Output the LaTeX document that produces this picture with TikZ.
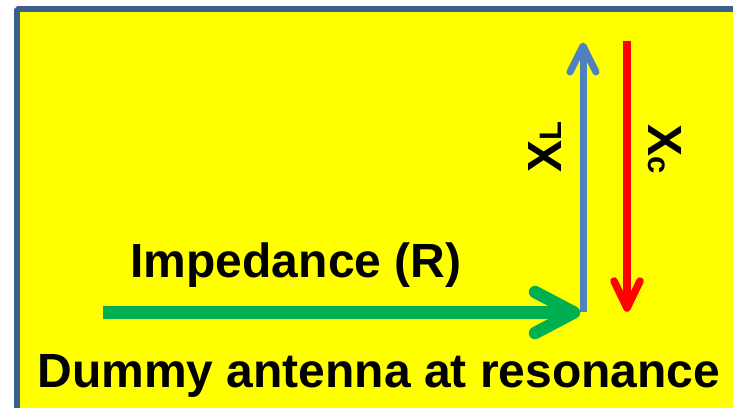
\documentclass[tikz,border=0pt]{standalone}
\usepackage{fontspec}
\setmainfont{Liberation Sans}
\definecolor{bgyellow}{HTML}{FFFF00}
\definecolor{framecol}{HTML}{3A5F8B}
\definecolor{xlblue}{HTML}{4F81BD}
\definecolor{xcred}{HTML}{FF0000}
\definecolor{rgreen}{HTML}{00B050}
\tikzset{
  bigtext/.style={font=\bfseries\fontsize{48}{56}\selectfont, inner sep=0pt, text=black},
  shaft/.style={line cap=butt},
  barb/.style={line cap=round, line join=round},
}
\newcommand{\subsz}[1]{{\fontsize{31}{31}\selectfont #1}}
\begin{document}
\begin{tikzpicture}[x=1pt,y=-1pt]
\useasboundingbox (0,0) rectangle (733,407);
\clip (0,0) rectangle (733,407);
% frame
\draw[framecol, line width=5.8pt, fill=bgyellow, rounded corners=1.5pt] (17,9) rectangle (760,430);
% coordinates
\coordinate (gs) at (103,312.5);
\coordinate (gt) at (574,312.5);
\coordinate (gw1) at (535,292);
\coordinate (gw2) at (535,333);
\coordinate (bs) at (583,312);
\coordinate (bt) at (583,46);
\coordinate (bw1) at (570,72);
\coordinate (bw2) at (596,72);
\coordinate (rs) at (627,41);
\coordinate (rt) at (627,308);
\coordinate (rw1) at (614,281);
\coordinate (rw2) at (640,281);
% green arrow
\draw[rgreen, line width=12.5pt, shaft] (gs) -- (gt);
\draw[rgreen, line width=12.5pt, barb] (gw1) -- (gt) -- (gw2);
% blue arrow
\draw[xlblue, line width=7pt, shaft] (bs) -- (bt);
\draw[xlblue, line width=7pt, barb] (bw1) -- (bt) -- (bw2);
% red arrow
\draw[xcred, line width=7.5pt, shaft] (rs) -- (rt);
\draw[xcred, line width=7.5pt, barb] (rw1) -- (rt) -- (rw2);
% texts
\node[bigtext, anchor=base] (imp) at (296,277) {Impedance (R)};
\node[bigtext, anchor=base] (dummy) at (379,387) {Dummy antenna at resonance};
\node[bigtext, anchor=base, rotate=90] (xl) at (561,147) {X\subsz{L}};
\node[bigtext, anchor=base, rotate=-90] (xc) at (648,149) {X\subsz{c}};
\end{tikzpicture}
\end{document}
